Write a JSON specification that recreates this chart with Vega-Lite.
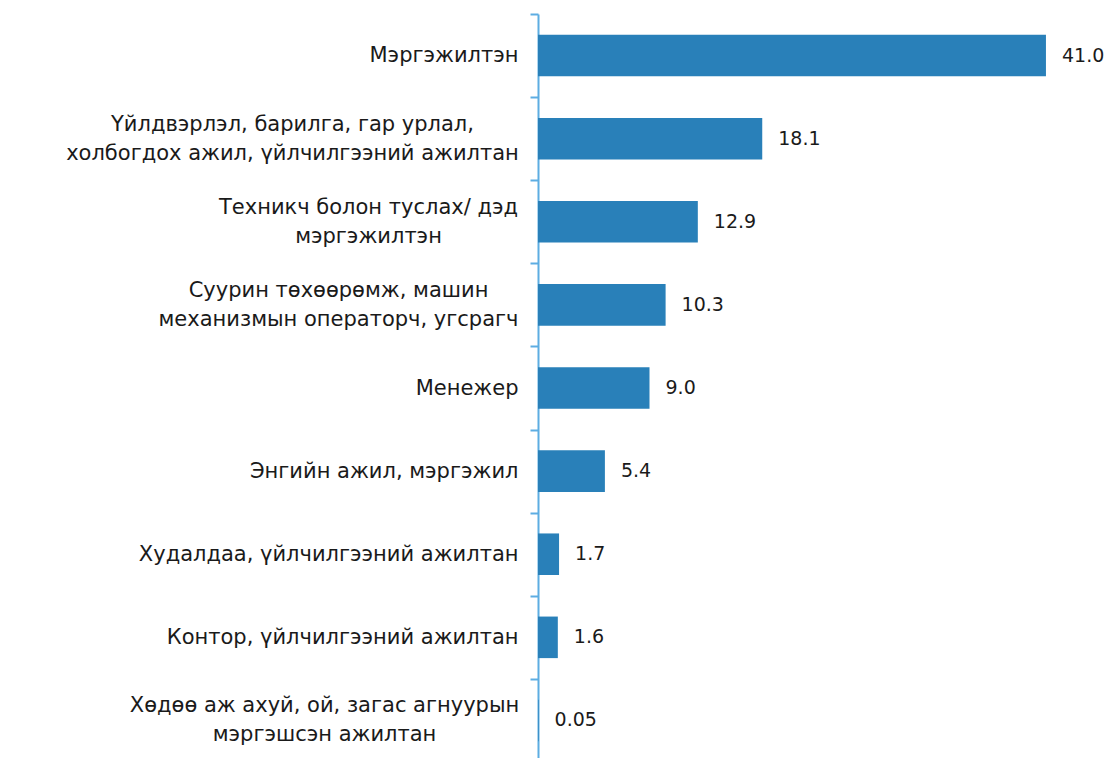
{
  "$schema": "https://vega.github.io/schema/vega-lite/v6.json",
  "autosize": {"type": "none"},
  "padding": {"left": 538, "top": 14, "right": 0, "bottom": 0},
  "width": 573,
  "height": 748,
  "background": "white",
  "config": {"view": {"stroke": null}, "font": "DejaVu Sans"},
  "data": {"values": [
    {"cat": "Мэргэжилтэн", "v": 41.0, "lbl": "41.0"},
    {"cat": "Үйлдвэрлэл, барилга, гар урлал,|холбогдох ажил, үйлчилгээний ажилтан", "v": 18.1, "lbl": "18.1"},
    {"cat": "Техникч болон туслах/ дэд|мэргэжилтэн", "v": 12.9, "lbl": "12.9"},
    {"cat": "Суурин төхөөрөмж, машин|механизмын операторч, угсрагч", "v": 10.3, "lbl": "10.3"},
    {"cat": "Менежер", "v": 9.0, "lbl": "9.0"},
    {"cat": "Энгийн ажил, мэргэжил", "v": 5.4, "lbl": "5.4"},
    {"cat": "Худалдаа, үйлчилгээний ажилтан", "v": 1.7, "lbl": "1.7"},
    {"cat": "Контор, үйлчилгээний ажилтан", "v": 1.6, "lbl": "1.6"},
    {"cat": "Хөдөө аж ахуй, ой, загас агнуурын|мэргэшсэн ажилтан", "v": 0.05, "lbl": "0.05"}
  ]},
  "encoding": {
    "y": {
      "field": "cat", "type": "nominal", "sort": null,
      "scale": {"paddingInner": 0, "paddingOuter": 0},
      "axis": {
        "title": null,
        "labelExpr": "split(datum.label, '|')",
        "labelFont": "DejaVu Sans",
        "labelFontSize": 21,
        "labelColor": "#1a1a1a",
        "labelLineHeight": 29,
        "labelLimit": 600,
        "labelOffset": {"condition": {"test": "indexof(datum.label, '|') >= 0", "value": -14.5}, "value": 0},
        "labelAlign": {"condition": {"test": "indexof(datum.label, '|') >= 0", "value": "center"}, "value": "right"},
        "labelPadding": {"condition": [
          {"test": "indexof(datum.label, 'Үйлдвэрлэл') == 0", "value": 238},
          {"test": "indexof(datum.label, 'Техникч') == 0", "value": 162},
          {"test": "indexof(datum.label, 'Суурин') == 0", "value": 192},
          {"test": "indexof(datum.label, 'Хөдөө') == 0", "value": 206}
        ], "value": 12},
        "tickBand": "extent",
        "tickSize": 8,
        "tickColor": "#5DADE2",
        "tickWidth": 2,
        "domainColor": "#5DADE2",
        "domainWidth": 2,
        "grid": false
      }
    },
    "x": {
      "field": "v", "type": "quantitative",
      "scale": {"domain": [0, 46.25], "nice": false, "zero": true},
      "axis": null
    }
  },
  "layer": [
    {"mark": {"type": "bar", "color": "#2980B9", "height": {"band": 0.5}}},
    {"mark": {"type": "text", "align": "left", "baseline": "middle", "dx": 16, "fontSize": 19, "color": "#1a1a1a", "font": "DejaVu Sans"},
     "encoding": {"text": {"field": "lbl"}}}
  ]
}
